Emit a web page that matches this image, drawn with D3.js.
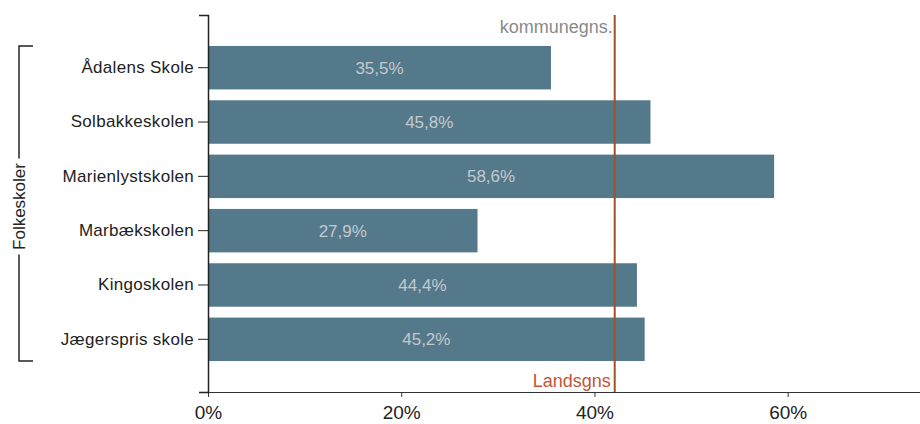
<!DOCTYPE html>
<html>
<head>
<meta charset="utf-8">
<script src="https://cdn.jsdelivr.net/npm/d3@7"></script>
<style>
  body { margin: 0; background: #fff; }
  svg { display: block; font-family: "Liberation Sans", Arial, sans-serif; }
</style>
</head>
<body>
<svg></svg>
<script>
const width = 920;
const height = 424;

const schools = ['Ådalens Skole', 'Solbakkeskolen', 'Marienlystskolen', 'Marbækskolen', 'Kingoskolen', 'Jægerspris skole'];
const values = [35.5, 45.8, 58.6, 27.9, 44.4, 45.2];
const groupLabel = 'Folkeskoler';
const kommuneAvg = 42.1;
const landsAvg = 42.1;

const svg = d3.select('svg')
	.attr('width', width)
	.attr('height', height);

const plotLeft = 208;
const plotTop = 15;
const plotBottom = 392;

const xScale = d3.scaleLinear()
	.domain([0, 73.7])
	.range([plotLeft, width]);

const yScale = d3.scaleBand()
	.domain(schools)
	.range([plotTop, plotBottom])
	.paddingInner(0.2)
	.paddingOuter(0.57);

const barColor = '#54798b';
const fmt = d => d3.format('.1f')(d).replace('.', ',') + '%';

// bars
svg.append('g')
	.selectAll('rect')
	.data(values)
	.join('rect')
		.attr('x', xScale(0))
		.attr('y', (d, i) => yScale(schools[i]))
		.attr('width', d => xScale(d) - xScale(0))
		.attr('height', yScale.bandwidth())
		.attr('fill', barColor);

svg.append('g')
	.selectAll('text')
	.data(values)
	.join('text')
		.attr('x', d => (xScale(0) + xScale(d)) / 2)
		.attr('y', (d, i) => yScale(schools[i]) + yScale.bandwidth() / 2)
		.attr('dy', '0.35em')
		.attr('text-anchor', 'middle')
		.attr('font-size', 17)
		.attr('fill', '#c4c9cc')
		.text(fmt);

// average lines
svg.append('line')
	.attr('x1', xScale(kommuneAvg)).attr('x2', xScale(kommuneAvg))
	.attr('y1', plotTop).attr('y2', plotBottom)
	.attr('stroke', '#a0522d')
	.attr('stroke-width', 2);
svg.append('text')
	.attr('x', xScale(kommuneAvg) - 2)
	.attr('y', 33)
	.attr('text-anchor', 'end')
	.attr('font-size', 18)
	.attr('fill', '#8a8a8a')
	.text('kommunegns.');
svg.append('text')
	.attr('x', xScale(landsAvg) - 4)
	.attr('y', 387)
	.attr('text-anchor', 'end')
	.attr('font-size', 18)
	.attr('fill', '#c2553a')
	.text('Landsgns');

// axes
const xAxis = d3.axisBottom(xScale)
	.ticks(5)
	.tickFormat(d => d + '%')
	.tickSize(5)
	.tickSizeOuter(0);
const xg = svg.append('g')
	.attr('transform', `translate(0, ${plotBottom})`)
	.call(xAxis);
xg.selectAll('text').attr('font-size', 19).attr('fill', '#222').attr('y', 13.5);
xg.select('.domain').attr('stroke', '#333');
xg.selectAll('.tick line').attr('stroke', '#333');

const yAxis = d3.axisLeft(yScale)
	.tickSize(10)
	.tickSizeOuter(9);
const yg = svg.append('g')
	.attr('transform', `translate(${plotLeft}, 0)`)
	.call(yAxis);
yg.selectAll('text').attr('font-size', 17).attr('fill', '#222').attr('x', -14)
	.attr('letter-spacing', 0.3);
yg.select('.domain').attr('stroke', '#222').attr('stroke-width', 1.5);
yg.selectAll('.tick line').attr('stroke', '#222');

// group bracket
const bx = 19;
const by0 = yScale(schools[0]);
const by1 = yScale(schools[schools.length - 1]) + yScale.bandwidth();
const mid = (by0 + by1) / 2 + 3;
svg.append('path')
	.attr('d', `M${bx + 14},${by0}H${bx}V${mid - 48}M${bx},${mid + 48}V${by1}H${bx + 14}`)
	.attr('fill', 'none')
	.attr('stroke', '#222')
	.attr('stroke-width', 1.5);
svg.append('text')
	.attr('transform', `translate(${bx}, ${mid}) rotate(-90)`)
	.attr('dy', '0.35em')
	.attr('text-anchor', 'middle')
	.attr('font-size', 17)
	.attr('fill', '#222')
	.text(groupLabel);
</script>
</body>
</html>
